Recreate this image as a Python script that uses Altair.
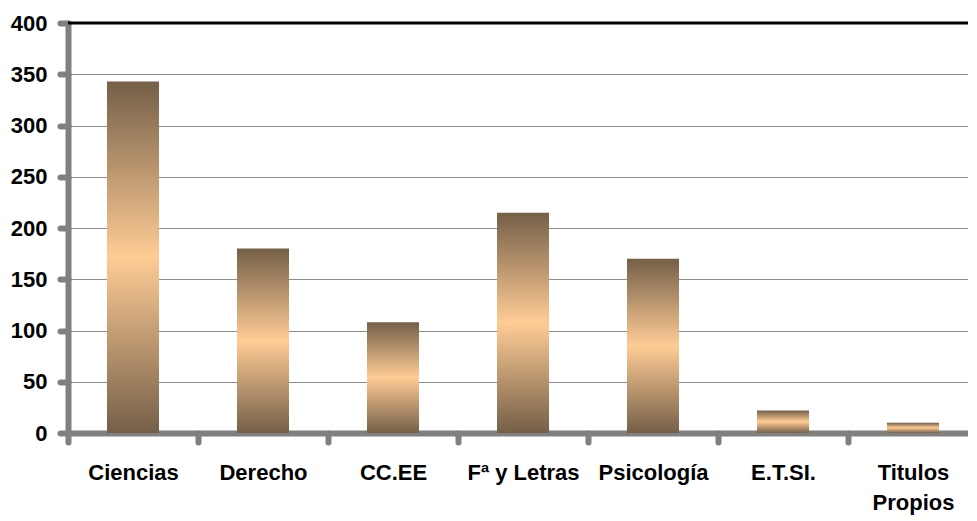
import altair as alt
import pandas as pd

categories = ["Ciencias", "Derecho", "CC.EE", "Fª y Letras", "Psicología", "E.T.SI.", "Titulos|Propios"]
values = [343, 180, 108, 215, 170, 22, 10]

df = pd.DataFrame({"cat": categories, "val": values})

FONT = "Liberation Sans"
grad = {
    "gradient": "linear", "x1": 0, "y1": 0, "x2": 0, "y2": 1,
    "stops": [
        {"offset": 0, "color": "#745f48"},
        {"offset": 0.5, "color": "#ffcc95"},
        {"offset": 1, "color": "#745f48"},
    ],
}

x = alt.X("cat:N", sort=categories, title=None,
          scale=alt.Scale(paddingInner=0, paddingOuter=0),
          axis=alt.Axis(labelAngle=0, labelFont=FONT, labelFontSize=22, labelFontWeight="bold",
                        labelColor="#000", labelPadding=20, labelLineHeight=30,
                        labelExpr="split(datum.label, '|')",
                        domainColor="#808080", domainWidth=6, domainCap="butt",
                        tickColor="#808080", tickWidth=6, tickSize=9, tickCap="round",
                        tickBand="extent", grid=False))
y = alt.Y("val:Q", title=None,
          scale=alt.Scale(domain=[0, 400], nice=False),
          axis=alt.Axis(values=list(range(0, 401, 50)), labelFont=FONT, labelFontSize=22,
                        labelFontWeight="bold", labelColor="#000", labelPadding=13,
                        domainColor="#808080", domainWidth=6, domainCap="round",
                        tickColor="#808080", tickWidth=6, tickSize=8, tickCap="round",
                        gridColor="#8c8c8c", gridWidth=1))

bars = alt.Chart(df).mark_bar(color=grad, width={"band": 0.4}).encode(x=x, y=y)
top = alt.Chart(pd.DataFrame({"v": [400]})).mark_rule(color="#000", strokeWidth=3).encode(y=alt.Y("v:Q"))

chart = alt.layer(bars, top).properties(
    width=910, height=410,
    autosize=alt.AutoSizeParams(type="none"),
    padding={"left": 60, "top": 15, "right": -10, "bottom": 82},
).configure_view(stroke=None)

chart.save("out.html", embed_options={"renderer": "svg", "actions": False})
